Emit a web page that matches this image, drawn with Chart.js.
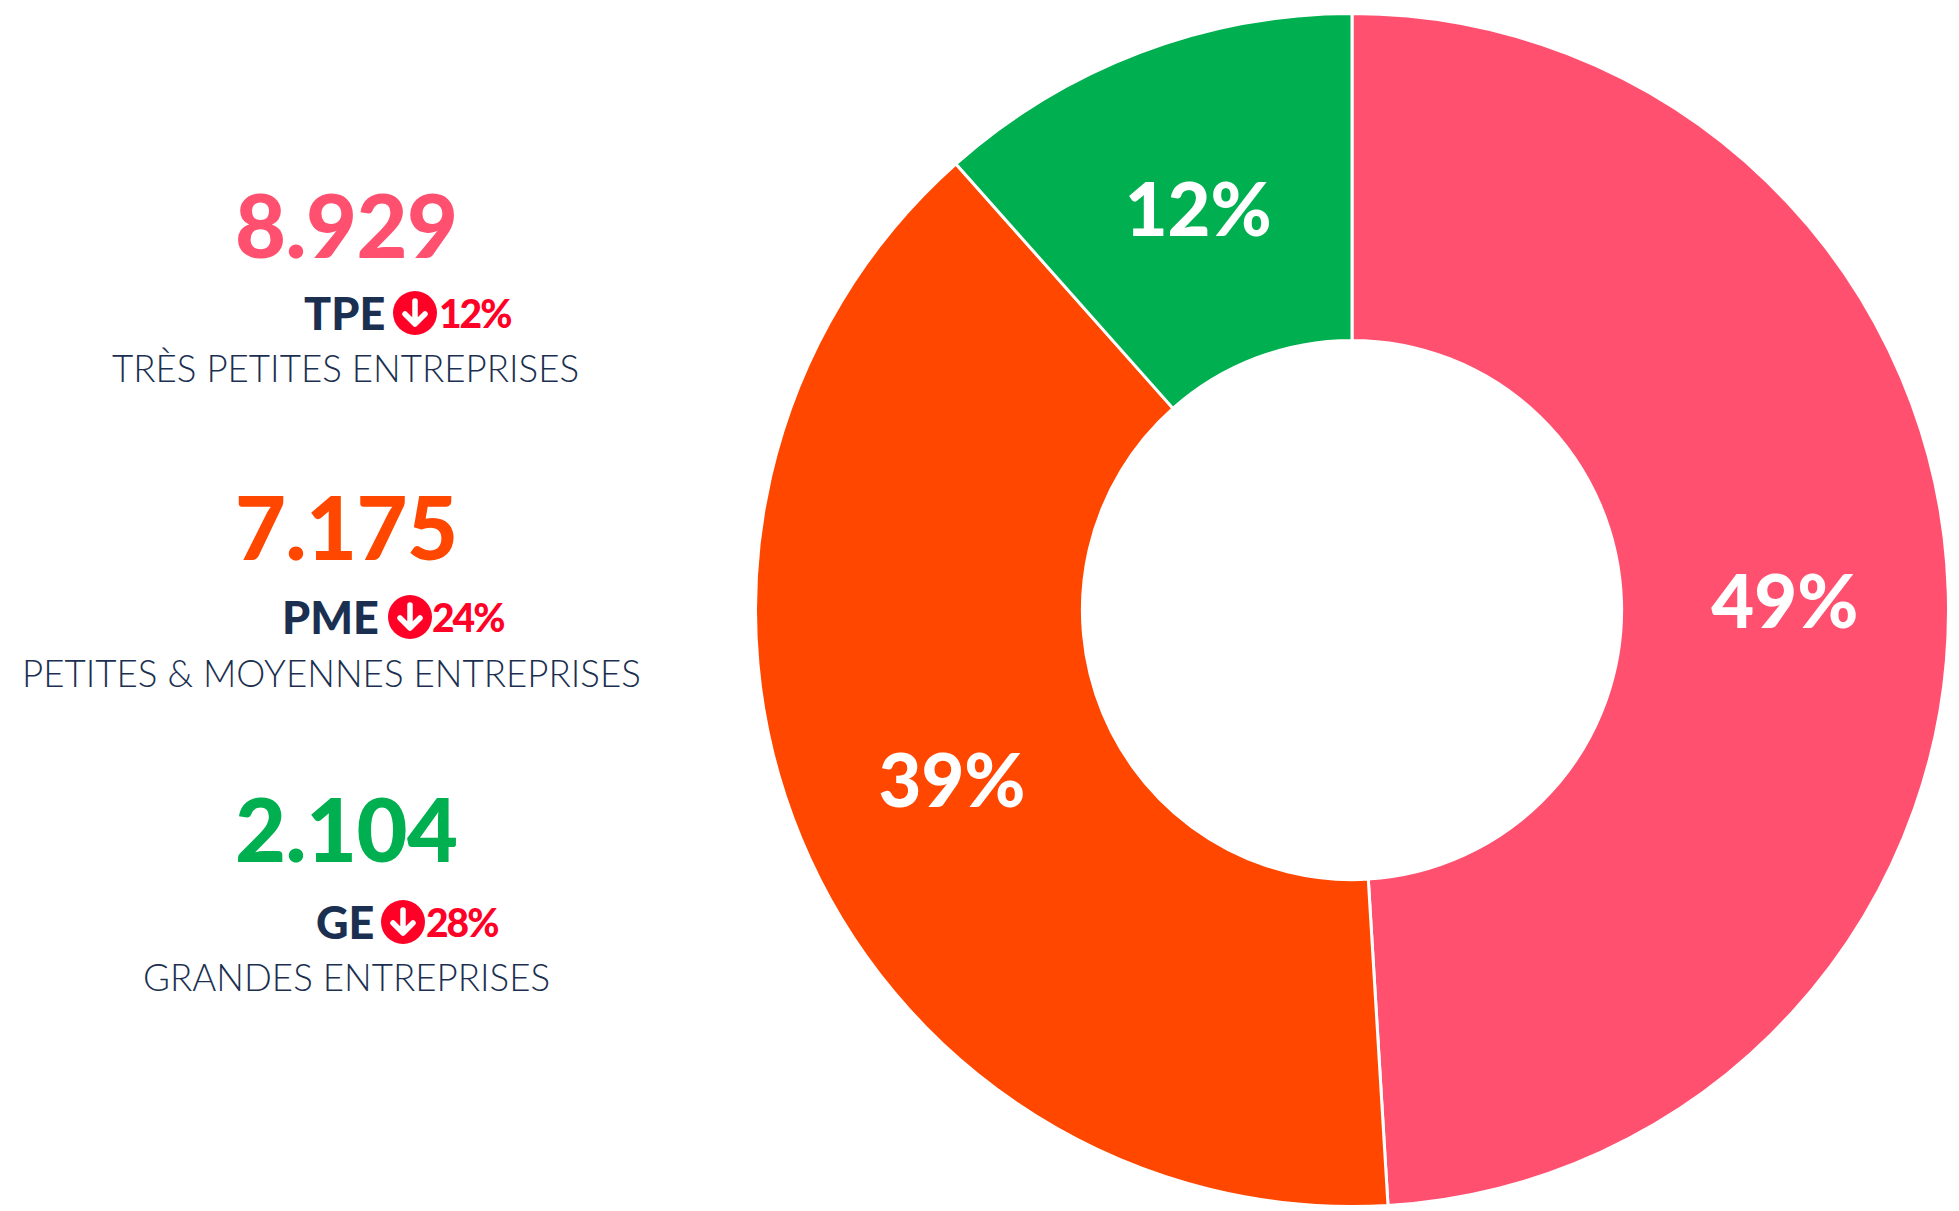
<!DOCTYPE html>
<html lang="fr"><head><meta charset="utf-8">
<script src="https://cdn.jsdelivr.net/npm/chart.js@4"></script>
<style>
html,body{margin:0;padding:0;background:#fff;width:1959px;height:1211px;overflow:hidden;font-family:Lato,sans-serif}
#wrap{position:absolute;left:754px;top:12px;width:1196px;height:1196px}
.t{position:absolute;white-space:nowrap;transform:translateY(-50%);line-height:1}
.num{font-weight:900;font-size:88px;letter-spacing:-.5px}
.abbr{font-weight:900;font-size:45px;color:#1B3050}
.chg{font-weight:900;font-size:39px;color:#FF0027;letter-spacing:-2px}
.full{font-weight:300;font-size:36.7px;color:#1B3050}
svg.b{position:absolute}
</style></head><body>
<div id="wrap"><canvas id="c"></canvas></div>
<div id="side"></div>
<script>
const categories=["TPE","PME","GE"];
const fullNames=["TRÈS PETITES ENTREPRISES","PETITES & MOYENNES ENTREPRISES","GRANDES ENTREPRISES"];
const values=[8929,7175,2104];
const valueLabels=["8.929","7.175","2.104"];
const changes=["12%","24%","28%"];
const colors=["#FF5070","#FF4700","#00B050"];

const numX=[235,235,235], numY=[224,526,828];
const abbrX=[304,282,316], rowY=[313,617,922];
const badgeX=[415,410,403], chgX=[439,432,426];
const fullX=[112,22,143], fullY=[368,673,977];

const side=document.getElementById('side');
function addText(cls,txt,x,y,col){const e=document.createElement('div');e.className='t '+cls;e.textContent=txt;e.style.left=x+'px';e.style.top=y+'px';if(col)e.style.color=col;side.appendChild(e);}
categories.forEach((c,i)=>{
  addText('num',valueLabels[i],numX[i],numY[i],colors[i]);
  addText('abbr',c,abbrX[i],rowY[i]);
  addText('chg',changes[i],chgX[i],rowY[i]);
  addText('full',fullNames[i],fullX[i],fullY[i]);
  side.insertAdjacentHTML('beforeend',`<svg class="b" width="44" height="44" viewBox="0 0 44 44" style="left:${badgeX[i]-22}px;top:${rowY[i]-22}px"><circle cx="22" cy="22" r="22" fill="#FF0027"/><path d="M22 10V32M12 23L22 33L32 23" fill="none" stroke="#fff" stroke-width="5.5" stroke-linecap="round" stroke-linejoin="round"/></svg>`);
});

const pctLabels={id:'pctLabels',afterDatasetsDraw(chart){
  const {ctx}=chart,meta=chart.getDatasetMeta(0),total=values.reduce((a,b)=>a+b,0);
  ctx.save();ctx.fillStyle='#fff';ctx.font='900 74px Lato';ctx.textAlign='center';ctx.textBaseline='middle';
  meta.data.forEach((arc,i)=>{const p=arc.tooltipPosition();ctx.fillText(Math.round(values[i]/total*100)+'%',p.x,p.y+7);});
  ctx.restore();
}};
new Chart(document.getElementById('c'),{type:'doughnut',
  data:{labels:categories,datasets:[{data:values,backgroundColor:colors,borderColor:'#fff',borderWidth:3,borderAlign:'center'}]},
  options:{responsive:true,maintainAspectRatio:false,animation:false,cutout:'45.2%',
    layout:{padding:0},plugins:{legend:{display:false},tooltip:{enabled:false}}},
  plugins:[pctLabels]});
</script></body></html>
